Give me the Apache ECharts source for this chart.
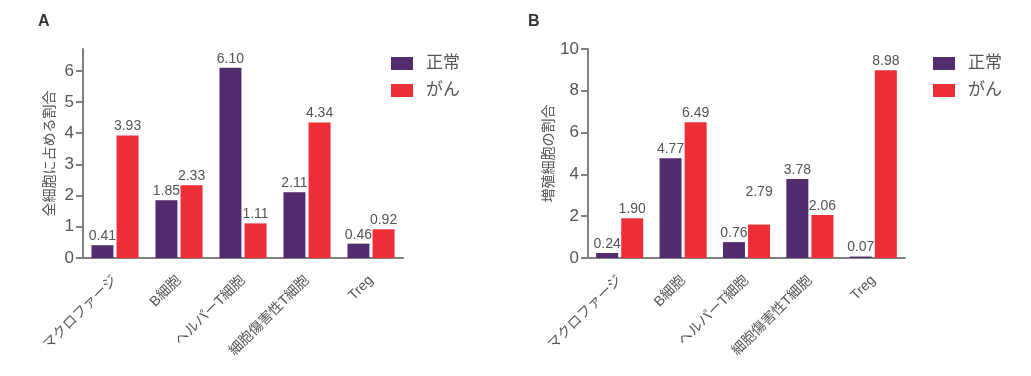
<!DOCTYPE html>
<html>
<head>
<meta charset="utf-8">
<script src="https://cdn.jsdelivr.net/npm/echarts@6/dist/echarts.min.js"></script>
<style>
  html, body { margin: 0; padding: 0; background: #fff; }
  #chart { width: 1031px; height: 376px; }
</style>
</head>
<body>
<div id="chart"></div>
<script>
const categories = ["マクロファージ", "B細胞", "ヘルパーT細胞", "細胞傷害性T細胞", "Treg"];
const seriesNames = ["正常", "がん"];
const normalA = [0.41, 1.85, 6.10, 2.11, 0.46];
const cancerA = [3.93, 2.33, 1.11, 4.34, 0.92];
const normalB = [0.24, 4.77, 0.76, 3.78, 0.07];
// bar height as drawn in the picture; label text as printed
const cancerB = [1.90, 6.49, 1.60, 2.06, 8.98];
const cancerBLabels = ["1.90", "6.49", "2.79", "2.06", "8.98"];
const ticksA = [0, 1, 2, 3, 4, 5, 6];
const ticksB = [0, 2, 4, 6, 8, 10];

const purple = "#512D6D";
const red = "#EE2E37";
const textColor = "#555";
const axisColor = "#808080";
const font = "'Liberation Sans', 'Noto Sans CJK JP', sans-serif";

const chart = echarts.init(document.getElementById("chart"));

function xAxis(gridIndex) {
  return {
    type: "category",
    gridIndex: gridIndex,
    data: categories,
    axisLine: { lineStyle: { color: axisColor, width: 2 } },
    axisTick: { alignWithLabel: true, length: 8, lineStyle: { color: axisColor, width: 2 } },
    axisLabel: { rotate: 45, margin: 20, fontSize: 14, color: textColor, fontFamily: font, interval: 0 }
  };
}

function yAxis(gridIndex, name, max, interval, ticks) {
  return {
    type: "value",
    gridIndex: gridIndex,
    min: 0,
    max: max,
    interval: interval,
    name: name,
    nameLocation: "middle",
    nameGap: 26,
    nameTextStyle: { fontSize: 14, color: textColor, fontFamily: font },
    axisLine: { show: true, lineStyle: { color: axisColor, width: 2 } },
    axisTick: { show: true, length: 7, customValues: ticks, lineStyle: { color: axisColor, width: 2 } },
    axisLabel: { margin: 9, fontSize: 17, color: textColor, fontFamily: font, customValues: ticks },
    splitLine: { show: false }
  };
}

function barLabel() {
  return {
    show: true,
    position: "top",
    distance: 2,
    fontSize: 14,
    color: textColor,
    fontFamily: font,
    formatter: p => Number(p.value).toFixed(2)
  };
}

function legend(left) {
  return {
    data: seriesNames, orient: "vertical", left: left, top: 50,
    itemWidth: 22, itemHeight: 13, itemGap: 10, icon: "rect",
    textStyle: { fontSize: 17, color: textColor, fontFamily: font, padding: [0, 0, 0, 8] }
  };
}

chart.setOption({
  animation: false,
  title: [
    { text: "A", left: 33, top: 9, textStyle: { fontSize: 16, fontWeight: "bold", color: "#333", fontFamily: font } },
    { text: "B", left: 523, top: 9, textStyle: { fontSize: 16, fontWeight: "bold", color: "#333", fontFamily: font } }
  ],
  legend: [legend(386), legend(928)],
  grid: [
    { left: 83, top: 49, right: 628, bottom: 118 },
    { left: 588, top: 49, right: 126, bottom: 118 }
  ],
  xAxis: [xAxis(0), xAxis(1)],
  yAxis: [
    yAxis(0, "全細胞に占める割合", 6.7, 1, ticksA),
    yAxis(1, "増殖細胞の割合", 10, 2, ticksB)
  ],
  series: [
    {
      name: seriesNames[0], type: "bar", xAxisIndex: 0, yAxisIndex: 0,
      data: normalA, itemStyle: { color: purple }, barWidth: 22, barGap: "14%", label: barLabel()
    },
    {
      name: seriesNames[1], type: "bar", xAxisIndex: 0, yAxisIndex: 0,
      data: cancerA, itemStyle: { color: red }, barWidth: 22, barGap: "14%", label: barLabel()
    },
    {
      name: seriesNames[0], type: "bar", xAxisIndex: 1, yAxisIndex: 1,
      data: normalB, itemStyle: { color: purple }, barWidth: 22, barGap: "14%", label: barLabel()
    },
    {
      name: seriesNames[1], type: "bar", xAxisIndex: 1, yAxisIndex: 1,
      data: cancerB.map((v, i) => ({
        value: v,
        label: { formatter: cancerBLabels[i], offset: cancerBLabels[i] === v.toFixed(2) ? [0, 0] : [0, -23] }
      })),
      itemStyle: { color: red }, barWidth: 22, barGap: "14%", label: barLabel()
    }
  ]
});
</script>
</body>
</html>
